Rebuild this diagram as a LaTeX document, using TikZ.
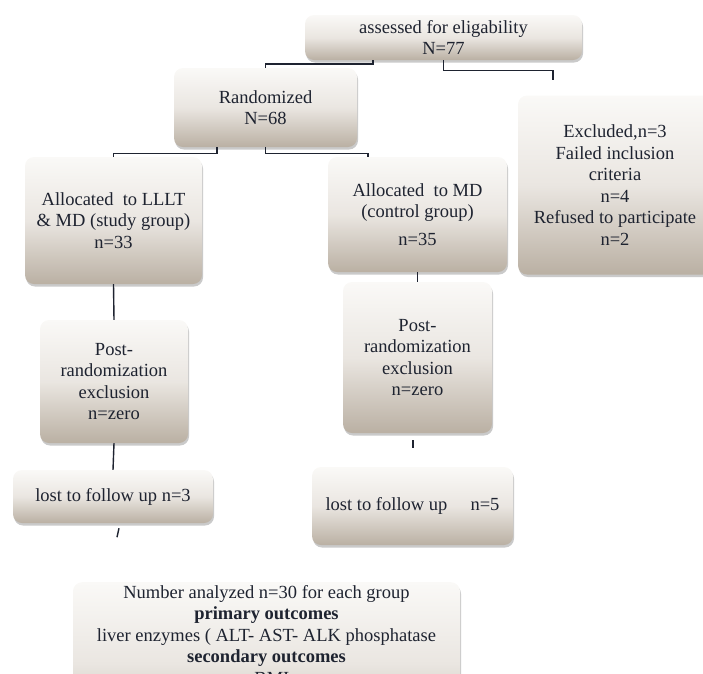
\documentclass[tikz,border=0pt]{standalone}
\usepackage{fontspec}
\setmainfont{Liberation Serif}
\usetikzlibrary{shadows,positioning}
\definecolor{boxtop}{HTML}{FAF9F7}
\definecolor{boxmid}{HTML}{EAE6E1}
\definecolor{boxbot}{HTML}{BAB0A3}
\definecolor{ink}{HTML}{1E2330}
\tikzset
{
    stage/.style = {rectangle, rounded corners=9pt, align=center, inner sep=2pt,
                    top color=boxtop, bottom color=boxbot, middle color=boxmid,
                    text=ink, font=\fontsize{18.5}{21.5}\selectfont,
                    drop shadow={shadow xshift=1pt, shadow yshift=-2.5pt, opacity=0.35, fill=black!60}},
    link/.style  = {draw=ink, line width=1.4pt}
}
\begin{document}
\begin{tikzpicture}[x=1pt, y=-1pt]
		\useasboundingbox (0,0) rectangle (703,673);
		\clip (0,0) rectangle (703,673);
		
		\node[stage, minimum width=277pt, minimum height=45pt] (assess) at (443.5,37.5) {assessed for eligability\\N=77};
		\node[stage, minimum width=183pt, minimum height=79pt] (rand) at (265.5,107.5) {Randomized\\N=68};
		\node[stage, minimum width=194pt, minimum height=179pt] (excl) at (615,185)
			{Excluded,n=3\\Failed inclusion\\criteria\\n=4\\Refused to participate\\n=2};
		
		\node[stage, minimum width=177pt, minimum height=127pt] (lllt) at (113.5,220.5) {Allocated~ to LLLT\\\& MD (study group)\\n=33};
		\node[stage, minimum width=179pt, minimum height=115pt] (mdalloc) at (417.5,214.5) {Allocated~ to MD\\(control group)\\[6pt]n=35};
		
		\node[stage, minimum width=148pt, minimum height=123pt] (postL) at (114,381.5) {Post-\\randomization\\exclusion\\n=zero};
		\node[stage, minimum width=149pt, minimum height=151pt] (postR) at (417.5,357.5) {Post-\\randomization\\exclusion\\n=zero};
		
		\node[stage, minimum width=200pt, minimum height=53pt] (lostL) at (113,496.5) {lost to follow up n=3};
		\node[stage, minimum width=201pt, minimum height=78pt] (lostR) at (412.5,506) {lost to follow up \quad n=5};
		
		\node[stage, minimum width=387pt, minimum height=130pt, anchor=north, inner ysep=3pt, text depth=58pt] (result) at (266.5,582)
			{Number analyzed n=30 for each group\\\textbf{primary outcomes}\\liver enzymes ( ALT- AST- ALK phosphatase\\\textbf{secondary outcomes}\\- BMI};
		
		% brackets from the top box
		\coordinate (exclend) at (553,80);
		\draw[link] (rand.north) -- ++(0,-4) -| ([xshift=-70.5pt]assess.south);
		\draw[link] (assess.south) -- ++(0,10) -| (exclend);
		
		% split into the two groups
		\draw[link] ([xshift=-48.5pt]rand.south) -- ++(0,6) -| (lllt.north);
		\draw[link] (rand.south) -- ++(0,6) -| ([xshift=-49.5pt]mdalloc.north);
		
		% study group
		\draw[link] (lllt.south) -- (postL.north);
		\draw[link] (postL.south) -- (lostL.north);
		\draw[link] ([shift={(6,5)}]lostL.south) -- ++(-2,9);
		
		% control group
		\draw[link] (mdalloc.south) -- (postR.north);
		\draw[link] ([shift={(-4.5,7)}]postR.south) -- ++(0,8);
		
		\end{tikzpicture}
\end{document}
